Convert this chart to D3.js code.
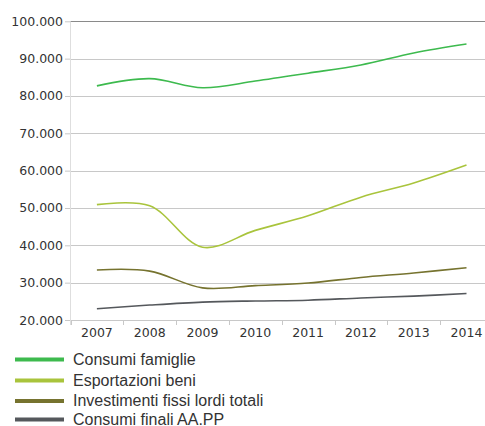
<!DOCTYPE html>
<html><head><meta charset="utf-8">
<script src="https://cdn.jsdelivr.net/npm/d3@7"></script>
<style>body{margin:0;background:#fff}svg{display:block}</style>
</head><body>
<script>
const years = ["2007","2008","2009","2010","2011","2012","2013","2014"];
const consumiFamiglie = [82700, 84650, 82200, 84000, 86100, 88300, 91500, 93900];
const esportazioniBeni = [50900, 50600, 39500, 44000, 47900, 52900, 56700, 61500];
const investimentiFissi = [33400, 33100, 28600, 29200, 29900, 31400, 32600, 34000];
const consumiFinaliPA = [23000, 24000, 24800, 25100, 25300, 25900, 26400, 27100];
const yTicks = [20000, 30000, 40000, 50000, 60000, 70000, 80000, 90000, 100000];
const seriesNames = ["Consumi famiglie", "Esportazioni beni", "Investimenti fissi lordi totali", "Consumi finali AA.PP"];
const seriesColors = ["#3dba4e", "#a9c43c", "#76732f", "#55585c"];
const seriesData = [consumiFamiglie, esportazioniBeni, investimentiFissi, consumiFinaliPA];

const W = 485, H = 426;
const svg = d3.select("body").append("svg").attr("width", W).attr("height", H);

const x = d3.scaleBand().domain(years).range([70.5, 70.5 + 8 * 52.8]);
const y = d3.scaleLinear().domain([20000, 100000]).range([320, 21.3]);
const fmt = v => d3.format(",")(v).replace(/,/g, ".");

// gridlines
svg.append("g").selectAll("line").data(yTicks).join("line")
  .attr("x1", 70).attr("x2", W)
  .attr("y1", d => Math.round(y(d)) + 0.5).attr("y2", d => Math.round(y(d)) + 0.5)
  .attr("stroke", d => d === 100000 ? "#8a8a8a" : "#c8c8c8").attr("stroke-width", 1);

// vertical axis line
svg.append("line").attr("x1", 70.5).attr("x2", 70.5).attr("y1", y(100000)).attr("y2", 325)
  .attr("stroke", "#dedede");

// y labels
const yAxis = svg.append("g").attr("transform", "translate(70,0)")
  .call(d3.axisLeft(y).tickValues(yTicks).tickFormat(fmt).tickSize(5).tickPadding(2));
yAxis.select(".domain").remove();
yAxis.selectAll(".tick line").attr("stroke", "#c8c8c8");
yAxis.selectAll("text").attr("font-family", "DejaVu Sans").attr("font-size", "12.5px").attr("fill", "#333");

// x axis ticks at band edges
const xEdges = years.map(d => x(d));
svg.append("g").selectAll("line").data(xEdges).join("line")
  .attr("x1", d => Math.round(d) + 0.5).attr("x2", d => Math.round(d) + 0.5)
  .attr("y1", 320).attr("y2", 325).attr("stroke", "#c8c8c8");
svg.append("g").selectAll("text").data(years).join("text")
  .attr("x", d => x(d) + x.bandwidth() / 2).attr("y", 337)
  .attr("text-anchor", "middle").attr("font-family", "DejaVu Sans").attr("font-size", "12.5px")
  .attr("fill", "#333").text(d => d);

// lines
const line = d3.line()
  .x((d, i) => x(years[i]) + x.bandwidth() / 2)
  .y(d => y(d))
  .curve(d3.curveCatmullRom.alpha(0.5));
svg.append("g").selectAll("path").data(seriesData).join("path")
  .attr("d", d => line(d)).attr("fill", "none")
  .attr("stroke", (d, i) => seriesColors[i]).attr("stroke-width", 1.6);

// legend
const legY = [359.5, 380.5, 401, 419.5];
const leg = svg.append("g").selectAll("g").data(seriesNames).join("g")
  .attr("transform", (d, i) => `translate(0,${legY[i]})`);
leg.append("line").attr("x1", 15).attr("x2", 64).attr("y1", 0).attr("y2", 0)
  .attr("stroke", (d, i) => seriesColors[i]).attr("stroke-width", 4);
leg.append("text").attr("x", 73).attr("y", 5)
  .attr("font-family", "Liberation Sans").attr("font-size", "16px").attr("fill", "#333")
  .text(d => d);
</script>
</body></html>
